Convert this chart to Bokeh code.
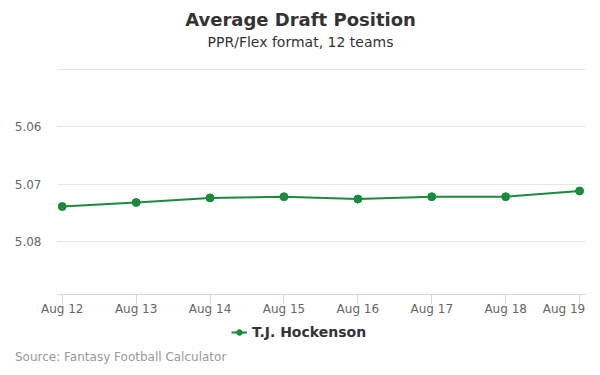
from bokeh.plotting import figure
from bokeh.models import Range1d, FixedTicker, Legend, LegendItem, Label, Div
from bokeh.layouts import column
from bokeh.embed import file_html
from bokeh.resources import INLINE

dates = ["Aug 12", "Aug 13", "Aug 14", "Aug 15", "Aug 16", "Aug 17", "Aug 18", "Aug 19"]
adp = [5.0739, 5.0732, 5.0724, 5.0722, 5.0726, 5.0722, 5.0722, 5.0712]
y_ticks = [5.05, 5.06, 5.07, 5.08]
y_tick_labels = ["", "5.06", "5.07", "5.08"]
player = "T.J. Hockenson"
title = "Average Draft Position"
subtitle = "PPR/Flex format, 12 teams"
source = "Source: Fantasy Football Calculator"

FONT = "DejaVu Sans"
GREEN = "#1b8a3c"

xs = list(range(len(dates)))


def strip(height):
    f = figure(width=600, height=height, output_backend="svg", toolbar_location=None,
               x_range=Range1d(0, 1), y_range=Range1d(0, 1),
               x_axis_type=None, y_axis_type=None,
               min_border_left=0, min_border_right=0, min_border_top=0, min_border_bottom=0)
    f.outline_line_color = None
    f.border_fill_color = "white"
    f.background_fill_color = "white"
    for g in f.grid:
        g.visible = False
    return f


# title strip
p0 = strip(68)
p0.add_layout(Label(x=243, y=49, x_units="screen", y_units="screen",
                    text=title, text_font=FONT, text_font_size="18px",
                    text_font_style="bold", text_color="#333333",
                    text_align="center", text_baseline="middle"))
p0.add_layout(Label(x=243, y=27, x_units="screen", y_units="screen",
                    text=subtitle, text_font=FONT, text_font_size="14px",
                    text_color="#333333", text_align="center", text_baseline="middle"))

# main chart
p = figure(width=600, height=254, output_backend="svg", toolbar_location=None,
           x_range=Range1d(-0.064, 7.08), y_range=Range1d(5.0892, 5.0499),
           min_border_left=57, min_border_right=15, min_border_top=0, min_border_bottom=28)
p.outline_line_color = None
p.background_fill_color = "white"
p.border_fill_color = "white"

p.line(xs, adp, line_color=GREEN, line_width=2)
p.scatter(xs, adp, size=8, fill_color=GREEN, line_color=GREEN)

labels = {i: d for i, d in enumerate(dates)}
# last label is pulled left to stay inside the chart, as in the reference
labels[len(dates) - 1] = dates[-1] + "\u00a0" * 4
p.xaxis.ticker = FixedTicker(ticks=xs)
p.xaxis.major_label_overrides = labels
p.xaxis.axis_line_color = "#ccd6eb"
p.xaxis.major_tick_line_color = "#ccd6eb"
p.xaxis.major_tick_out = 10
p.xaxis.major_tick_in = 0
p.xaxis.minor_tick_line_color = None
p.xaxis.major_label_text_font = FONT
p.xaxis.major_label_text_font_size = "12px"
p.xaxis.major_label_text_color = "#666666"
p.xaxis.major_label_standoff = -3
p.xgrid.grid_line_color = None

p.yaxis.ticker = FixedTicker(ticks=y_ticks)
p.yaxis.major_label_overrides = {t: l for t, l in zip(y_ticks, y_tick_labels)}
p.yaxis.axis_line_color = None
p.yaxis.major_tick_line_color = None
p.yaxis.minor_tick_line_color = None
p.yaxis.major_label_text_font = FONT
p.yaxis.major_label_text_font_size = "12px"
p.yaxis.major_label_text_color = "#666666"
p.yaxis.major_label_standoff = 10
p.ygrid.grid_line_color = "#e6e6e6"
p.ygrid.ticker = FixedTicker(ticks=y_ticks)

# legend strip (series styles repeated; its data lies outside this strip's range)
p2 = strip(22)
l2 = p2.line(xs, adp, line_color=GREEN, line_width=2)
s2 = p2.scatter(xs, adp, size=8, fill_color=GREEN, line_color=GREEN)
legend = Legend(items=[LegendItem(label=player, renderers=[l2, s2])],
                orientation="horizontal", location=(174, 4),
                label_text_font=FONT, label_text_font_size="14px",
                label_text_font_style="bold", label_text_color="#333333",
                glyph_width=16, glyph_height=14, border_line_color=None,
                background_fill_alpha=0, padding=0, margin=0, spacing=0,
                label_standoff=5, label_height=14)
p2.add_layout(legend, "center")

src = Div(text=source, width=600, height=31, margin=(0, 0, 0, 0),
          styles={"font-family": FONT, "font-size": "12px", "color": "#999999",
                  "padding-left": "15px", "line-height": "26px", "background": "white"})

layout = column(p0, p, p2, src, spacing=0)
open("out.html", "w").write(file_html(layout, INLINE))
